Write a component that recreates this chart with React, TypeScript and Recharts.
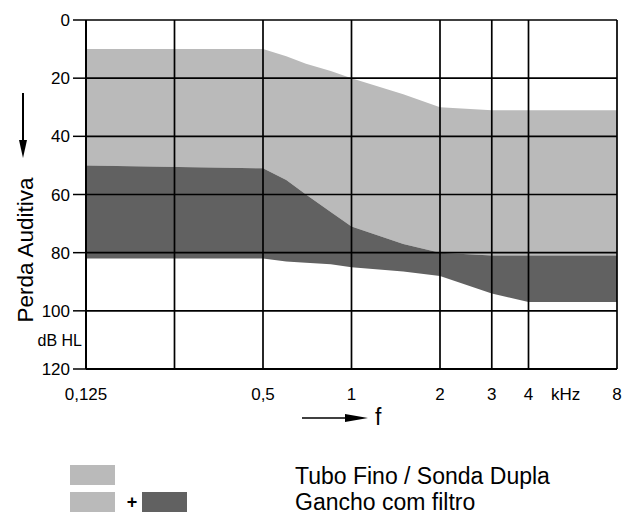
import { Area, AreaChart, ReferenceLine, XAxis, YAxis } from "recharts";

// frequency points (kHz) where the region borders were read
const freqs = [0.125, 0.5, 0.6, 0.7, 0.85, 1, 1.5, 2, 3, 4, 8];
// upper border of "Tubo Fino / Sonda Dupla" (dB HL)
const tuboTop = [10, 10, 12.5, 15, 17.5, 20, 25.5, 30, 31, 31, 31];
// dark part of "Gancho com filtro"
const ganchoTop = [50, 51, 55, 60, 66, 71, 77, 80, 81, 81, 81];
const ganchoBottom = [82, 82, 83, 83.5, 84, 85, 86.5, 88, 94, 97, 97];

const xTicks = [0.125, 0.5, 1, 2, 3, 4, 5.35, 8];
const xTickLabels = ["0,125", "0,5", "1", "2", "3", "4", "kHz", "8"];
const xGrid = [0.25, 0.5, 1, 2, 3, 4, 8];
const yTicks = [0, 20, 40, 60, 80, 100, 120];
const yGrid = [0, 20, 40, 60, 80, 100];

const LIGHT = "#bababa";
const DARK = "#616161";
const FONT = "'Liberation Sans', Arial, sans-serif";

const rows = freqs.map((f, i) => ({
  f,
  tubo: [tuboTop[i], ganchoTop[i]],
  gancho: [ganchoTop[i], ganchoBottom[i]],
}));

export default function App() {
  return (
    <div
      style={{
        position: "absolute",
        left: 0,
        top: 0,
        width: 629,
        height: 521,
        background: "#fff",
        fontFamily: FONT,
      }}
    >
      <AreaChart
        width={629}
        height={420}
        data={rows}
        margin={{ top: 20, right: 12, left: 0, bottom: 0 }}
      >
        <XAxis
          dataKey="f"
          type="number"
          scale="log"
          domain={[0.125, 8]}
          ticks={xTicks}
          interval={0}
          tickFormatter={(v: number) => xTickLabels[xTicks.indexOf(v)] ?? ""}
          tickLine={false}
          tickSize={0}
          tickMargin={19}
          height={51}
          axisLine={{ stroke: "#000", strokeWidth: 2 }}
          tick={{ fill: "#000", fontSize: 17, fontFamily: FONT }}
        />
        <YAxis
          type="number"
          domain={[0, 120]}
          reversed
          ticks={yTicks}
          interval={0}
          width={86}
          tickSize={13}
          tickMargin={3}
          axisLine={{ stroke: "#000", strokeWidth: 2 }}
          tickLine={{ stroke: "#000", strokeWidth: 1.5 }}
          tick={{ fill: "#000", fontSize: 17, fontFamily: FONT }}
        />
        <Area
          dataKey="tubo"
          type="linear"
          stroke="none"
          fill={LIGHT}
          fillOpacity={1}
          isAnimationActive={false}
        />
        <Area
          dataKey="gancho"
          type="linear"
          stroke="none"
          fill={DARK}
          fillOpacity={1}
          isAnimationActive={false}
        />
        {xGrid.map((v) => (
          <ReferenceLine key={"x" + v} x={v} stroke="#000" strokeWidth={1.7} />
        ))}
        {yGrid.map((v) => (
          <ReferenceLine key={"y" + v} y={v} stroke="#000" strokeWidth={1.7} />
        ))}
      </AreaChart>

      <svg
        width={629}
        height={521}
        style={{ position: "absolute", left: 0, top: 0, pointerEvents: "none" }}
        fontFamily={FONT}
      >
        {/* y axis title with arrow */}
        <line x1={23} y1={93} x2={23} y2={145} stroke="#000" strokeWidth={2} />
        <polygon points="19,140 27,140 23,158" fill="#000" />
        <text
          transform="translate(33,250) rotate(-90)"
          textAnchor="middle"
          fontSize={22.5}
          fill="#000"
        >
          Perda Auditiva
        </text>
        <text x={82} y={346} textAnchor="end" fontSize={16} fill="#000">
          dB HL
        </text>

        {/* frequency arrow */}
        <line x1={302} y1={418} x2={350} y2={418} stroke="#000" strokeWidth={1.5} />
        <polygon points="345,414 368,418 345,422" fill="#000" />
        <text x={375} y={425} fontSize={23} fill="#000">
          f
        </text>

        {/* legend */}
        <rect x={70} y={465} width={45} height={20} fill={LIGHT} />
        <text x={295} y={484} fontSize={23} fill="#000">
          Tubo Fino / Sonda Dupla
        </text>
        <rect x={70} y={492} width={45} height={20} fill={LIGHT} />
        <text x={132} y={508} textAnchor="middle" fontSize={18} fontWeight="bold" fill="#000">
          +
        </text>
        <rect x={142} y={492} width={45} height={20} fill={DARK} />
        <text x={295} y={510} fontSize={23} fill="#000">
          Gancho com filtro
        </text>
      </svg>
    </div>
  );
}
